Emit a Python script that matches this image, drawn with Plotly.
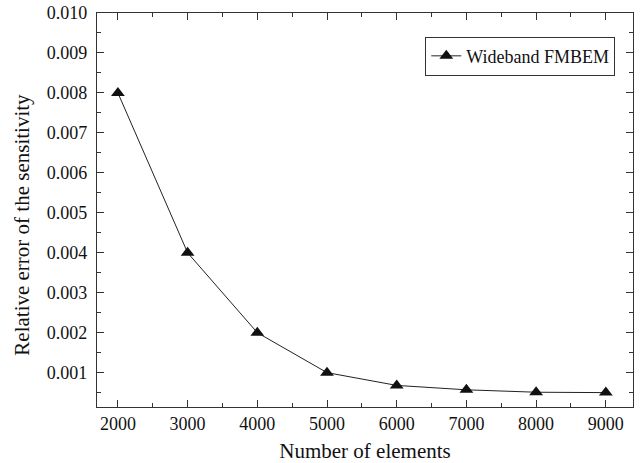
import plotly.graph_objects as go

# Mesh size vs. relative error of the sensitivity
num_elements = [2000, 3000, 4000, 5000, 6000, 7000, 8000, 9000]
relative_error = [0.0080, 0.0040, 0.0020, 0.0010, 0.00068, 0.00057, 0.00051, 0.00050]
series_name = "Wideband FMBEM"
x_title = "Number of elements"
y_title = "Relative error of the sensitivity"

serif = "Liberation Serif, Times New Roman, serif"
axis_color = "#333333"
text_color = "#111111"

fig = go.Figure()
fig.add_trace(go.Scatter(
    x=num_elements,
    y=relative_error,
    mode="lines+markers",
    name=series_name,
    line=dict(color="#222222", width=1),
    marker=dict(symbol="triangle-up", size=12, color="#111111"),
))

common_axis = dict(
    showline=True,
    linecolor=axis_color,
    linewidth=1.3,
    mirror="allticks",
    ticks="inside",
    ticklen=7,
    tickwidth=1.2,
    tickcolor=axis_color,
    showgrid=False,
    zeroline=False,
    automargin=False,
    tickfont=dict(family=serif, size=18, color=text_color),
)

fig.update_xaxes(
    **common_axis,
    ticklabelstandoff=0,
    range=[1700, 9390],
    tick0=2000,
    dtick=1000,
    minor=dict(ticks="inside", ticklen=4, dtick=500, tick0=2000,
               tickcolor=axis_color, tickwidth=1.1),
    title=dict(text=x_title,
               font=dict(family=serif, size=21, color=text_color),
               standoff=16),
)
fig.update_yaxes(
    **common_axis,
    ticklabelstandoff=5,
    range=[0.00014, 0.010],
    tick0=0,
    dtick=0.001,
    tickformat=".3f",
    minor=dict(ticks="inside", ticklen=4, dtick=0.0005, tick0=0,
               tickcolor=axis_color, tickwidth=1.1),
)

# Vertical axis title, placed as a rotated annotation beside the tick labels
fig.add_annotation(
    text=y_title,
    xref="paper", yref="paper",
    x=-0.139, y=0.464,
    xanchor="center", yanchor="middle",
    textangle=-90,
    showarrow=False,
    font=dict(family=serif, size=21, color=text_color),
)

fig.update_layout(
    width=640,
    height=463,
    margin=dict(l=97, r=7, t=13, b=56, autoexpand=False),
    paper_bgcolor="white",
    plot_bgcolor="white",
    showlegend=True,
    legend=dict(
        x=0.967, y=0.94,
        xanchor="right", yanchor="top",
        bordercolor="#333333",
        borderwidth=1,
        bgcolor="white",
        font=dict(family=serif, size=18, color=text_color),
    ),
)

fig.write_html("out.html")
